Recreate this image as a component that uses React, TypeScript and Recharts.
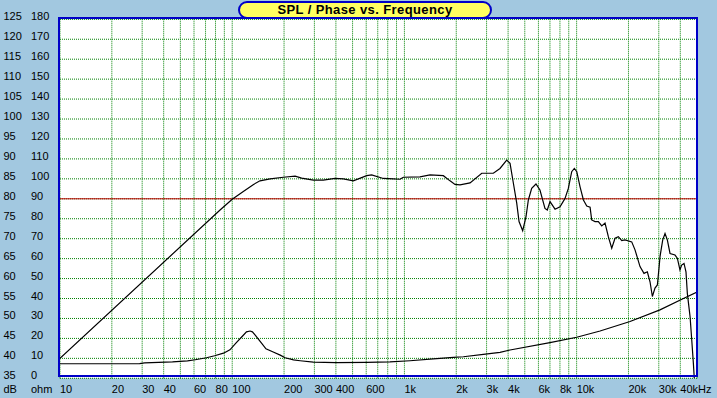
import React from "react";
import { LineChart, Line, XAxis, YAxis, CartesianGrid, ReferenceLine } from "recharts";

const BG = "#A2C8E0";
const BLUE = "#0000C8";
const GRID = "#008000";
const RED = "#C00000";

// SPL curve (Hz, dB)
const splFreq = [10, 85, 100, 116, 133, 145, 166, 198, 232, 253, 296, 338, 395, 442, 505, 604, 645, 754, 862, 943, 985, 1231, 1408, 1683, 1840, 1966, 2103, 2405, 2812, 3283, 3589, 3926, 4105, 4293, 4489, 4630, 4862, 5083, 5244, 5483, 5807, 6124, 6549, 6754, 7008, 7492, 8009, 8562, 8950, 9363, 9700, 10020, 10470, 10950, 11450, 11970, 12230, 12790, 13370, 13990, 14620, 15280, 15990, 16710, 17470, 18280, 19100, 20890, 21830, 23340, 24610, 25740, 26680, 27530, 28510, 29430, 30200, 30490, 31620, 32610, 33630, 34860, 37260, 38440, 39810, 40740, 42030, 43150, 43940, 45590, 46610, 47630, 48200];
const splDb = [40.0, 77.2, 79.9, 81.8, 83.6, 84.5, 85.0, 85.4, 85.7, 85.2, 84.7, 84.7, 85.1, 85.0, 84.5, 85.8, 86.0, 85.1, 85.0, 84.9, 85.4, 85.5, 86.0, 85.8, 84.5, 83.6, 83.5, 84.0, 86.4, 86.4, 87.6, 89.7, 88.9, 83.9, 78.9, 74.3, 72.0, 75.5, 79.7, 82.6, 83.7, 82.2, 77.6, 77.2, 79.3, 77.4, 78.0, 80.1, 82.6, 86.8, 87.6, 86.8, 83.0, 79.7, 78.2, 77.9, 74.7, 74.3, 74.3, 73.2, 73.9, 70.5, 67.6, 70.1, 70.5, 69.5, 69.7, 69.2, 67.2, 63.0, 61.3, 61.7, 59.2, 55.5, 57.6, 58.4, 63.4, 65.5, 69.7, 71.3, 69.7, 66.3, 65.9, 65.1, 62.2, 63.4, 63.8, 61.7, 56.3, 50.4, 44.6, 38.8, 35.0];

// Impedance curve (Hz, ohm)
const impFreq = [10, 29, 31, 45, 55, 61, 71, 79, 89, 97, 106, 116, 121, 127, 131, 136, 148, 157, 173, 190, 203, 227, 248, 296, 400, 604, 824, 1078, 1472, 1923, 2198, 2873, 3589, 4105, 7000, 10010, 13680, 20420, 30470, 41700, 50000];
const impOhm = [7.3, 7.4, 7.7, 8.2, 8.7, 9.3, 10.3, 11.3, 12.6, 14.3, 18.0, 21.6, 23.3, 23.7, 23.3, 21.7, 17.6, 14.8, 13.2, 11.6, 10.3, 9.2, 8.8, 8.1, 7.9, 8.0, 8.2, 8.8, 9.7, 10.5, 10.8, 12.0, 13.0, 14.2, 17.9, 20.6, 23.7, 28.5, 34.3, 40.0, 43.2];

// Axes
const gridFreqs = [10, 20, 30, 40, 50, 60, 70, 80, 90, 100, 200, 300, 400, 500, 600, 700, 800, 900, 1000, 2000, 3000, 4000, 5000, 6000, 7000, 8000, 9000, 10000, 20000, 30000, 40000];
const xLabelFreqs = [10, 20, 30, 40, 60, 80, 100, 200, 300, 400, 600, 1000, 2000, 3000, 4000, 6000, 8000, 10000, 20000, 30000, 40000];
const xLabelTexts = ["10", "20", "30", "40", "60", "80", "100", "200", "300", "400", "600", "1k", "2k", "3k", "4k", "6k", "8k", "10k", "20k", "30k", "40kHz"];
const dbTicks = [35, 40, 45, 50, 55, 60, 65, 70, 75, 80, 85, 90, 95, 100, 105, 110, 115, 120, 125];
const ohmTicks = [0, 10, 20, 30, 40, 50, 60, 70, 80, 90, 100, 110, 120, 130, 140, 150, 160, 170, 180];

const splData = splFreq.map((f, i) => ({ f, db: splDb[i] }));
const impData = impFreq.map((f, i) => ({ f, ohm: impOhm[i] }));

const FONT = '"Liberation Sans", Arial, sans-serif';

const XTick = (props: any) => {
  const { x, payload } = props;
  const idx = xLabelFreqs.indexOf(payload.value);
  return (
    <g>
      {idx >= 0 && (
        <text x={x} y={393} fontSize={11} fontFamily={FONT} fill="#000" textAnchor="start">
          {xLabelTexts[idx]}
        </text>
      )}
      {payload.value === 10 && (
        <>
          <text x={3.5} y={393} fontSize={11} fontFamily={FONT} fill="#000">dB</text>
          <text x={31} y={393} fontSize={11} fontFamily={FONT} fill="#000">ohm</text>
        </>
      )}
    </g>
  );
};

const YTick = (props: any) => {
  const { y, payload } = props;
  const i = dbTicks.indexOf(payload.value);
  return (
    <g>
      <text x={3.5} y={y + 1} fontSize={11} fontFamily={FONT} fill="#000">{payload.value}</text>
      <text x={31} y={y + 1} fontSize={11} fontFamily={FONT} fill="#000">{ohmTicks[i]}</text>
    </g>
  );
};

export default function App() {
  return (
    <div style={{ position: "absolute", left: 0, top: 0, width: 717, height: 398, background: BG, overflow: "hidden", fontFamily: FONT }}>
      <LineChart width={717} height={398} margin={{ top: 19.3, right: 20, bottom: 0, left: 0 }}>
        <CartesianGrid stroke={GRID} strokeDasharray="1 1" fill="#FFFFFF" fillOpacity={1} />
        <XAxis
          dataKey="f"
          type="number"
          scale="log"
          domain={[10, 50000]}
          ticks={gridFreqs}
          interval={0}
          allowDataOverflow
          axisLine={false}
          tickLine={false}
          height={19.7}
          tick={<XTick />}
        />
        <YAxis
          domain={[35, 125]}
          ticks={dbTicks}
          interval={0}
          allowDataOverflow
          axisLine={false}
          tickLine={false}
          width={60}
          tick={<YTick />}
        />
        <YAxis yAxisId="ohm" hide domain={[0, 180]} allowDataOverflow />
        <ReferenceLine y={80} stroke={RED} strokeWidth={1} />
        <Line data={impData} dataKey="ohm" yAxisId="ohm" type="linear" stroke="#000" strokeWidth={1.2} dot={false} isAnimationActive={false} />
        <Line data={splData} dataKey="db" type="linear" stroke="#000" strokeWidth={1.2} dot={false} isAnimationActive={false} />
      </LineChart>
      <div style={{ position: "absolute", left: 58, top: 17, width: 640, height: 360, border: `2px solid ${BLUE}`, boxSizing: "border-box", pointerEvents: "none" }} />
      <div style={{ position: "absolute", left: 238, top: 1, width: 254, height: 18, border: `2px solid ${BLUE}`, borderRadius: 9, background: "#FFFF60", boxSizing: "border-box", display: "flex", alignItems: "center", justifyContent: "center", fontWeight: "bold", fontSize: 13, letterSpacing: 0.4, color: "#000", lineHeight: "14px" }}>
        SPL / Phase vs. Frequency
      </div>
    </div>
  );
}
